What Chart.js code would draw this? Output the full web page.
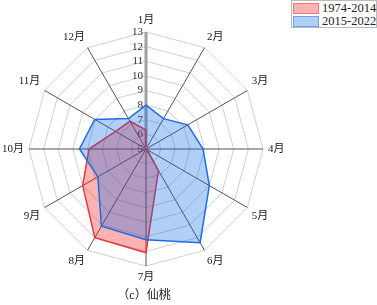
<!DOCTYPE html>
<html lang="zh"><head>
<meta charset="utf-8">
<title>仙桃</title>
<script src="https://cdn.jsdelivr.net/npm/chart.js@4.4.3/dist/chart.umd.min.js"></script>
<style>
  *{box-sizing:border-box;margin:0;padding:0}
  body{background:#fff;width:377px;height:305px;overflow:hidden;font-family:'Liberation Serif','Noto Sans CJK SC',serif}
  .wrap{position:relative;width:377px;height:305px}
  #c{position:absolute;left:0;top:0}
  .legend{position:absolute;left:291px;top:0;width:86px;height:28px;border:1px solid #bbb;background:#fff;padding:1px 1px}
  .legend div{display:flex;align-items:center;gap:3px;height:13px;font-size:12.5px;color:#222;white-space:nowrap}
  .legend span{display:inline-block;flex:0 0 26px;height:11px}
</style>
</head><body>
<div class="wrap">
  <canvas id="c" width="292" height="305"></canvas>
  <div class="legend">
    <div><span style="background:rgba(255,0,0,.3);border:1px solid rgba(230,60,70,.5)"></span>1974-2014</div>
    <div><span style="background:rgba(0,100,230,.3);border:1px solid rgba(30,110,230,.5)"></span>2015-2022</div>
  </div>
</div>
<script>
const months = ['1月', '2月', '3月', '4月', '5月', '6月', '7月', '8月', '9月', '10月', '11月', '12月']
const early = [6.3, 5.0, 5.0, 5.0, 5.1, 6.7, 12.1, 12.0, 10.0, 8.9, 7.4, 7.2]
const recent = [8.0, 7.4, 8.3, 8.9, 10.0, 12.4, 11.2, 11.1, 8.8, 9.55, 9.05, 7.4]
const tickValues = [5, 6, 7, 8, 9, 10, 11, 12, 13]

const FONT = "'Liberation Serif','Noto Sans CJK SC',serif"

// tick labels sit just left of the 1月 axis
const tickPlugin = {
  id: 'tickLabels',
  beforeDatasetsDraw(chart) {
    const scale = chart.scales.r
    const ctx = chart.ctx
    ctx.save()
    ctx.font = '11px ' + FONT
    ctx.fillStyle = '#333'
    ctx.textAlign = 'right'
    ctx.textBaseline = 'middle'
    tickValues.forEach(v => {
      const p = scale.getPointPositionForValue(0, v)
      ctx.fillText(String(v), p.x - 3, p.y)
    })
    ctx.restore()
  }
}

new Chart(document.getElementById('c'), {
  type: 'radar',
  data: {
    labels: months,
    datasets: [
      { label: '1974-2014', data: early, order: 2,
        backgroundColor: 'rgba(255,0,0,0.3)', borderColor: '#e8373f', borderWidth: 1.5,
        pointRadius: 0, fill: true },
      { label: '2015-2022', data: recent, order: 1,
        backgroundColor: 'rgba(0,100,230,0.3)', borderColor: '#1a6ee6', borderWidth: 1.5,
        pointRadius: 0, fill: true },
    ],
  },
  options: {
    responsive: false,
    animation: false,
    layout: { padding: { top: 13, bottom: 0, left: 0, right: 4 } },
    plugins: {
      legend: { display: false },
      tooltip: { enabled: false },
      title: { display: true, position: 'bottom', text: '（c）仙桃',
        color: '#222', font: { family: FONT, size: 12, weight: 'normal' }, padding: { top: 2, bottom: 2 } },
    },
    scales: {
      r: {
        min: 5, max: 13,
        ticks: { display: false, stepSize: 1 },
        grid: { circular: false, color: '#d0d0d0', lineWidth: 1 },
        angleLines: {
          color: ctx => ctx.index === 0 ? '#a0a0a0' : '#555',
          lineWidth: ctx => ctx.index === 0 ? 3 : 1,
        },
        pointLabels: { color: '#222', font: { family: FONT, size: 11 }, padding: 5 },
      },
    },
  },
  plugins: [tickPlugin],
})
</script>
</body></html>
